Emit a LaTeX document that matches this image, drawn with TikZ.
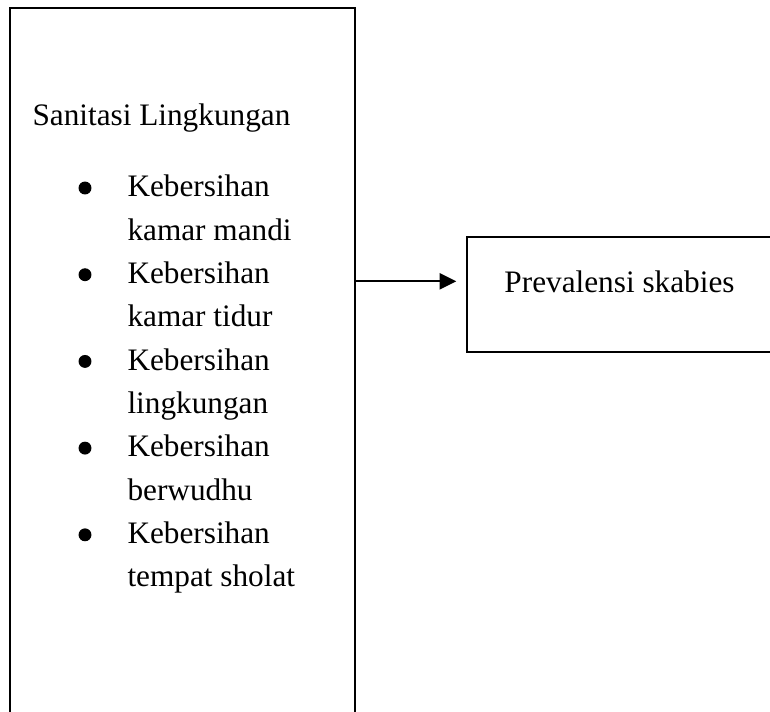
\documentclass[tikz,border=0pt]{standalone}
\usepackage{fontspec}
\setmainfont{Liberation Serif}
\usetikzlibrary{arrows.meta}

\begin{document}
\begin{tikzpicture}[x=0.3871pt,y=-0.3871pt,>={Triangle[length=6.4pt,width=6.2pt]},font=\fontsize{12.1}{16.8}\selectfont]
	\tikzstyle{box}=[draw=black,line width=0.5pt,inner sep=0pt]
	\tikzstyle{txt}=[inner sep=0pt,anchor=base west,align=left]
	\tikzstyle{dot}=[circle,fill=black,inner sep=0pt,minimum size=5pt]
	\useasboundingbox (0,0) rectangle (770,711);
	\node[box,minimum width=133.5pt,minimum height=275.6pt] (lingk) at (182.5,364) {};
	\node[box,minimum width=118.1pt,minimum height=44.5pt] (skabies) at (619.5,294.5) {};
	\node[txt] (judul) at (32,125) {Sanitasi Lingkungan};
	\foreach \i/\isi in {1/kamar mandi,2/kamar tidur,3/lingkungan,4/berwudhu,5/tempat sholat} {
		\node[dot] (b\i) at (85,{188+86.7*(\i-1)}) {};
		\node[txt] (k\i) at (127,{240+86.7*(\i-1)}) {Kebersihan\\\isi};
	}
	\node[inner sep=0pt,anchor=base] (prev) at (619.5,292) {Prevalensi skabies};
	\draw[->,line width=0.9pt,shorten >=3.9pt] (lingk.east |- prev) -- (skabies.west |- prev);
\end{tikzpicture}
\end{document}
